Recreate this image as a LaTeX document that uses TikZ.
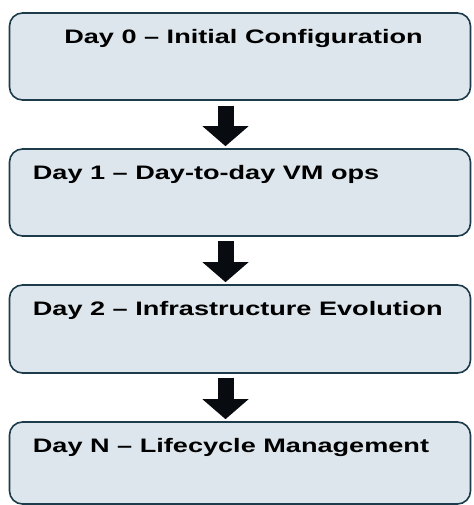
\documentclass[tikz,border=0pt]{standalone}
\usepackage{fontspec}
\usetikzlibrary{arrows.meta,calc}
\newfontfamily\boxfont[FakeStretch=1.39]{Liberation Sans}
\definecolor{boxfill}{HTML}{DCE6EC}
\definecolor{boxline}{HTML}{1C3B4B}
\definecolor{arrowcol}{HTML}{080C10}
\tikzset{
  stagebox/.style={draw=boxline, fill=boxfill, line width=1.6pt, rounded corners=13pt,
    minimum width=461pt, inner sep=0pt},
  stagetext/.style={font=\boxfont\bfseries\fontsize{19.5pt}{22pt}\selectfont, text=black, inner sep=0pt},
  bigarrow/.style={draw=arrowcol, line width=16pt,
    -{Triangle[width=45pt,length=20pt,fill=arrowcol]}}
}
\begin{document}
\begin{tikzpicture}[x=1pt,y=1pt]
\useasboundingbox (0,0) rectangle (473,505);
\node[stagebox, minimum height=87pt] (b1) at (240,448.5) {};
\node[stagebox, minimum height=87pt] (b2) at (240,312.5) {};
\node[stagebox, minimum height=88pt] (b3) at (240,176) {};
\node[stagebox, minimum height=82pt] (b4) at (240,42) {};
\node[stagetext, anchor=base] (t1) at ($(b1.north)+(3.5,-31)$) {Day 0 – Initial Configuration};
\node[stagetext, anchor=base west] (t2) at ($(b2.north west)+(24,-31)$) {Day 1 – Day-to-day VM ops};
\node[stagetext, anchor=base west] (t3) at ($(b3.north west)+(24,-31)$) {Day 2 – Infrastructure Evolution};
\node[stagetext, anchor=base west] (t4) at ($(b4.north west)+(24,-31)$) {Day N – Lifecycle Management};
\draw[bigarrow] ($(b1.south)+(-14.5,-5)$) -- ($(b2.north)+(-14.5,2)$);
\draw[bigarrow] ($(b2.south)+(-14.5,-4)$) -- ($(b3.north)+(-14.5,2)$);
\draw[bigarrow] ($(b3.south)+(-14.5,-4)$) -- ($(b4.north)+(-14.5,2)$);
\end{tikzpicture}
\end{document}
